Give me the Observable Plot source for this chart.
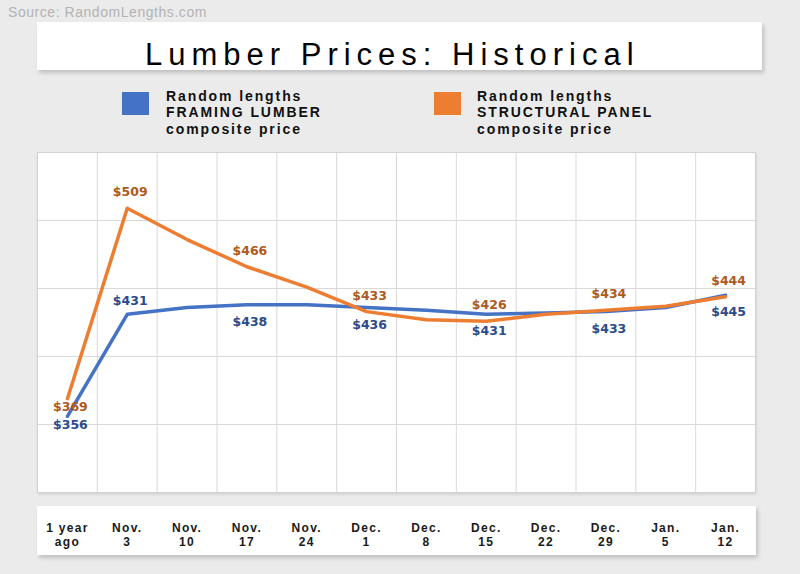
<!DOCTYPE html>
<html><head><meta charset="utf-8">
<script src="https://cdn.jsdelivr.net/npm/d3@7"></script>
<script src="https://cdn.jsdelivr.net/npm/@observablehq/plot@0.6"></script>
<style>
html,body{margin:0;padding:0;}
body{width:800px;height:574px;background:#ebebeb;position:relative;overflow:hidden;font-family:"Liberation Sans",Arial,sans-serif;}
#source{position:absolute;left:8px;top:4px;font-size:14px;color:#b3b3b3;letter-spacing:0.55px;line-height:16px;white-space:nowrap;}
#titlebox{position:absolute;left:37px;top:22px;width:725px;height:48px;background:#fff;box-shadow:2px 3px 4px rgba(0,0,0,0.18);}
#title{position:absolute;left:145px;top:39px;font-size:31px;line-height:31px;letter-spacing:6px;color:#000;white-space:nowrap;}
.sw{position:absolute;top:92px;width:27px;height:23px;}
.lt{position:absolute;top:87.6px;font-size:14px;font-weight:bold;line-height:16.5px;letter-spacing:1.9px;color:#111;white-space:nowrap;}
#plotbg{position:absolute;left:37px;top:152px;width:718px;height:340px;background:#fff;box-shadow:1px 2px 3px rgba(0,0,0,0.15);}
#axisbox{position:absolute;left:37px;top:506px;width:719px;height:49px;background:#fff;box-shadow:2px 3px 4px rgba(0,0,0,0.18);}
#chart{position:absolute;left:36px;top:151px;}
</style></head>
<body>
<div id="source">Source: RandomLengths.com</div>
<div id="titlebox"></div>
<div id="title">Lumber Prices: Historical</div>
<div class="sw" style="left:122px;background:#4472c4"></div>
<div class="lt" style="left:166px">Random lengths<br>FRAMING LUMBER<br>composite price</div>
<div class="sw" style="left:434px;background:#ed7d31"></div>
<div class="lt" style="left:477px">Random lengths<br>STRUCTURAL PANEL<br>composite price</div>
<div id="plotbg"></div>
<div id="axisbox"></div>
<div id="chart"></div>
<script>
const categories = ["1 year\nago","Nov.\n3","Nov.\n10","Nov.\n17","Nov.\n24","Dec.\n1","Dec.\n8","Dec.\n15","Dec.\n22","Dec.\n29","Jan.\n5","Jan.\n12"];
const framing = [356, 431, 436, 438, 438, 436, 434, 431, 432, 433, 436, 445];
const panel   = [369, 509, 486, 466, 451, 433, 427, 426, 431, 434, 437, 444];
const labeled = [0, 1, 3, 5, 7, 9, 11];
const yDomain = [300, 550];
const yGrid = [350, 400, 450, 500];

const rows = categories.map((c, i) => ({i, c, framing: framing[i], panel: panel[i]}));
const lab = rows.filter(d => labeled.includes(d.i));
const boundaries = categories.slice(1).map((_, i) => i + 0.5);

const blue = "#4472c4", orange = "#ed7d31";
const blueTxt = "#2c4a8c", orangeTxt = "#ad5a1c";
const lblFont = {fontFamily: "DejaVu Sans", fontWeight: "bold", fontSize: 12.5, dx: 3};

const chart = Plot.plot({
  width: 720, height: 404,
  marginTop: 1, marginRight: 1, marginBottom: 63, marginLeft: 1,
  style: {background: "transparent", overflow: "visible", fontFamily: "Liberation Sans, Arial, sans-serif"},
  x: {type: "linear", domain: [-0.5, categories.length - 0.5], axis: null, label: null},
  y: {domain: yDomain, axis: null, label: null},
  marks: [
    Plot.frame({fill: "white"}),
    Plot.gridX(boundaries, {stroke: "#d9d9d9", strokeOpacity: 1}),
    Plot.gridY(yGrid, {stroke: "#d9d9d9", strokeOpacity: 1}),
    Plot.frame({stroke: "#d2d2d2"}),
    Plot.axisX(rows.map(d => d.i), {anchor: "bottom", label: null, tickFormat: i => categories[i], tickSize: 0, tickPadding: 29.5,
      fontSize: 12, fontWeight: "bold", fill: "#1a1a1a", lineHeight: 1.17}),
    Plot.line(rows, {x: "i", y: "framing", stroke: blue, strokeWidth: 3.5}),
    Plot.line(rows, {x: "i", y: "panel", stroke: orange, strokeWidth: 3.5}),
    Plot.text(lab.filter(d => d.i > 0), {x: "i", y: "panel", text: d => "$" + d.panel, fill: orangeTxt, dy: -16, ...lblFont}),
    Plot.text(lab.filter(d => d.i === 0), {x: "i", y: "panel", text: d => "$" + d.panel, fill: orangeTxt, dy: 8, ...lblFont}),
    Plot.text(lab.filter(d => d.i > 1), {x: "i", y: "framing", text: d => "$" + d.framing, fill: blueTxt, dy: 17, ...lblFont}),
    Plot.text(lab.filter(d => d.i === 1), {x: "i", y: "framing", text: d => "$" + d.framing, fill: blueTxt, dy: -13, ...lblFont}),
    Plot.text(lab.filter(d => d.i === 0), {x: "i", y: "framing", text: d => "$" + d.framing, fill: blueTxt, dy: 9, ...lblFont})
  ]
});
d3.select(chart).selectAll('g[aria-label="x-axis tick label"] text').style("letter-spacing", "1.3px");
document.getElementById("chart").appendChild(chart);
</script>
</body></html>
